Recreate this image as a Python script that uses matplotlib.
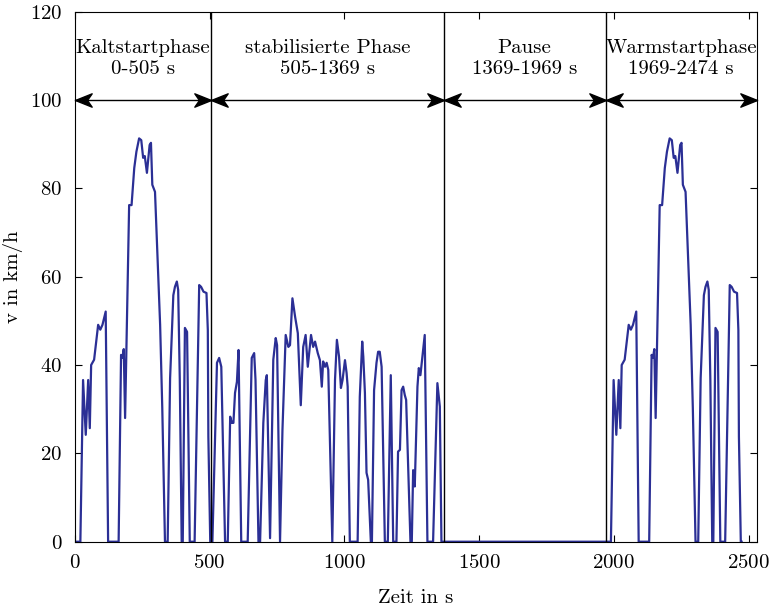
import numpy as np
import matplotlib
matplotlib.use("Agg")
import matplotlib.pyplot as plt

plt.rcParams['font.family'] = ['cmr10', 'DejaVu Serif']
plt.rcParams['mathtext.fontset'] = 'cm'
plt.rcParams['axes.formatter.use_mathtext'] = True

# Kaltstartphase (0-505 s)
t_cold = [0, 20, 30, 40, 49, 55, 60, 71, 86, 94, 102, 114, 123, 162, 171, 176, 181,
          186, 201, 210, 220, 228, 238, 246, 253, 259, 267, 277, 282, 287, 297, 316,
          324, 334, 344, 353, 365, 371, 378, 383, 389, 396, 400, 408, 416, 426, 444,
          461, 468, 477, 488, 493, 495, 502, 505]
v_cold = [0, 0, 36.6, 24.2, 36.6, 25.7, 40, 41.2, 49.1, 48, 49.1, 52.1, 0, 0, 42.3, 41.6,
          43.6, 28, 76.2, 76.2, 84.6, 88.3, 91.3, 90.9, 86.9, 87.3, 83.5, 89.8, 90.3,
          80.8, 79.2, 49.1, 30.2, 0, 0, 37, 55.8, 57.7, 58.9, 57, 36.6, 0, 0, 48.4,
          47.5, 0, 0, 58.1, 57.7, 56.6, 56.3, 47.9, 23.8, 0, 0]

# stabilisierte Phase (505-1369 s)
t_stab = [510, 527, 535, 543, 557, 567, 576, 582, 588, 594, 601, 607, 617, 641, 656,
          665, 670, 681, 687, 699, 708, 712, 724, 736, 745, 750, 761, 770, 782, 792,
          798, 807, 817, 827, 838, 847, 856, 864, 876, 884, 891, 901, 909, 916, 921,
          928, 934, 940, 955, 965, 972, 980, 987, 993, 1002, 1008, 1012, 1020, 1049,
          1057, 1066, 1070, 1076, 1082, 1088, 1098, 1102, 1110, 1119, 1125, 1131,
          1138, 1150, 1161, 1172, 1181, 1193, 1199, 1206, 1212, 1218, 1224, 1229,
          1245, 1250, 1255, 1261, 1271, 1276, 1282, 1288, 1298, 1308, 1329, 1345,
          1354, 1360, 1369]
v_stab = [0, 40.5, 41.6, 39.6, 0, 0, 28.3, 26.9, 26.9, 33.7, 36.2, 43.4, 0, 0, 41.6,
          42.7, 36.6, 0, 0, 26.9, 36.6, 37.7, 0.8, 41.2, 46.1, 44.5, 0, 25.3, 46.8,
          44.1, 44.5, 55.1, 50.9, 47.2, 30.9, 44.1, 46.8, 39.6, 46.8, 44.1, 45.3,
          42.7, 41.1, 35.1, 40.8, 39.6, 40.5, 38.9, 0, 36.6, 45.7, 41.9, 34.8, 36.6,
          41.1, 38.2, 35.1, 0, 0, 32.8, 45.3, 41.9, 33.7, 15.6, 14, 0, 0, 34.3, 40.5,
          43, 43, 39.6, 0, 0, 37.7, 0, 0, 20.4, 20.8, 34.3, 35.1, 33.2, 32.1, 0, 0,
          16.2, 12.5, 35.1, 39.3, 37.7, 41.1, 46.8, 0, 0, 35.9, 30.6, 0, 0]

# Pause (1369-1969 s), then Warmstartphase = Kaltstartphase again
t_pause = [1969]
v_pause = [0]
warm_offset = 1969

phase_bounds = [0, 505, 1369, 1969, 2530]
phase_names = ["Kaltstartphase\n0-505 s", "stabilisierte Phase\n505-1369 s",
               "Pause\n1369-1969 s", "Warmstartphase\n1969-2474 s"]

t_all = np.concatenate([t_cold, t_stab, t_pause, np.array(t_cold[1:]) + warm_offset])
v_all = np.concatenate([v_cold, v_stab, v_pause, v_cold[1:]])

# stealth-like arrow heads, tip at the origin
head_r = [(0, 0), (-1, 0.4), (-0.72, 0), (-1, -0.4), (0, 0)]
head_l = [(-x, y) for x, y in head_r]

fig = plt.figure(figsize=(7.69, 6.11), dpi=100)
ax = fig.add_axes([0.0975, 0.1134, 0.8865, 0.8676])

ax.plot(t_all, v_all, color='#2b2f95', lw=1.6)

for xb in phase_bounds[1:4]:
    ax.axvline(xb, color='black', lw=1.0)

for i, name in enumerate(phase_names):
    x0, x1 = phase_bounds[i], phase_bounds[i + 1]
    ax.plot([x0, x1], [100, 100], color='black', lw=1.0, clip_on=False)
    ax.plot([x0], [100], marker=head_l, ms=24, color='black', clip_on=False)
    ax.plot([x1], [100], marker=head_r, ms=24, color='black', clip_on=False)
    ax.text((x0 + x1) / 2, 109.3, name, ha='center', va='center', fontsize=15,
            linespacing=1.22)

ax.set_xlim(0, 2530)
ax.set_ylim(0, 120)
ax.set_xticks([0, 500, 1000, 1500, 2000, 2500])
ax.set_yticks([0, 20, 40, 60, 80, 100, 120])
ax.tick_params(direction='in', top=True, right=True, labelsize=15, length=5, pad=9)
ax.set_xlabel('Zeit in s', fontsize=15, labelpad=12)
ax.set_ylabel('v in km/h', fontsize=15, labelpad=5)

fig.savefig('out.png', dpi=100)
